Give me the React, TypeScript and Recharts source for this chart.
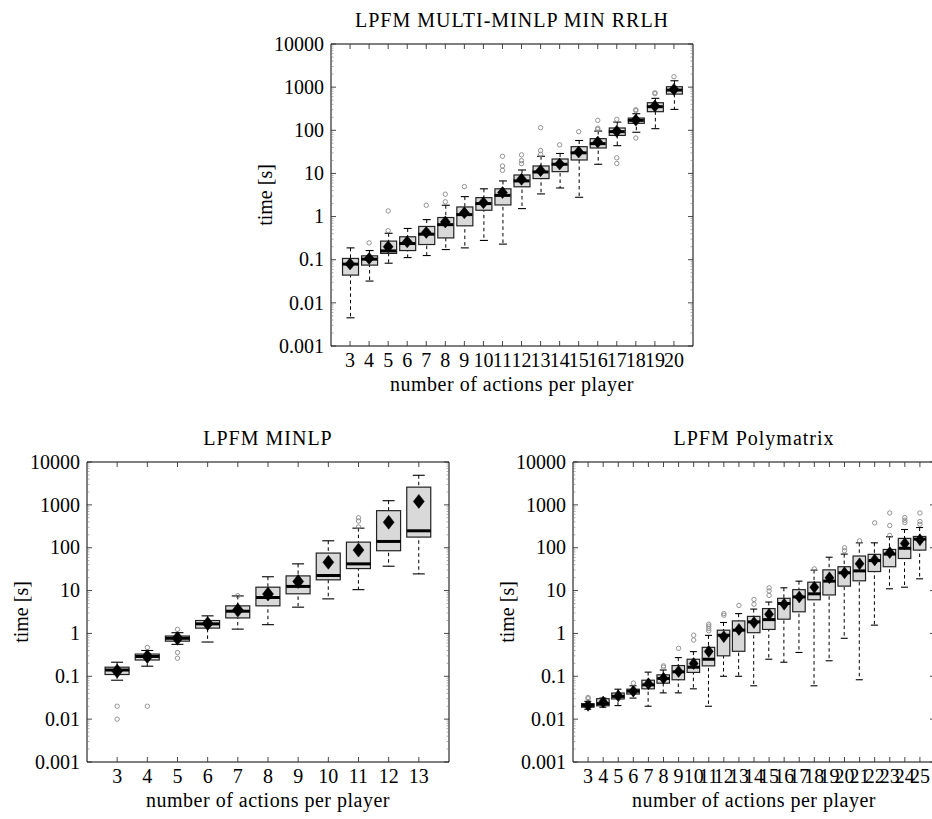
import React from 'react';
import { ComposedChart, Bar, Scatter, XAxis, YAxis, ReferenceArea } from 'recharts';

const FONT = "'Liberation Serif', 'Times New Roman', serif";

const Y_MAJOR = [0.001, 0.01, 0.1, 1, 10, 100, 1000, 10000];
const Y_MAJOR_LABELS = ['0.001', '0.01', '0.1', '1', '10', '100', '1000', '10000'];
const Y_MINOR_FACTORS = [2, 3, 4, 5, 6, 7, 8, 9];
const X_LABEL = 'number of actions per player';
const Y_LABEL = 'time [s]';

// ---- Panel A: LPFM MULTI-MINLP MIN RRLH ----
const titleA = 'LPFM MULTI-MINLP MIN RRLH';
const catsA = [3, 4, 5, 6, 7, 8, 9, 10, 11, 12, 13, 14, 15, 16, 17, 18, 19, 20];
const loA = [0.0045, 0.032, 0.083, 0.112, 0.125, 0.172, 0.188, 0.28, 0.23, 1.53, 3.35, 4.6, 2.8, 16.3, 44, 90, 109, 305];
const q1A = [0.044, 0.075, 0.14, 0.163, 0.225, 0.32, 0.61, 1.4, 1.86, 4.9, 7.6, 11, 20.5, 38.9, 76, 145, 270, 690];
const medA = [0.079, 0.103, 0.16, 0.237, 0.39, 0.65, 1.11, 2.0, 3.1, 6.7, 10.8, 16.3, 30, 49, 93, 170, 352, 855];
const q3A = [0.107, 0.123, 0.27, 0.34, 0.59, 0.95, 1.67, 2.75, 4.4, 9.2, 14.9, 21.6, 41.7, 64, 113, 192, 435, 1021];
const hiA = [0.188, 0.163, 0.41, 0.53, 0.85, 1.83, 2.9, 4.4, 6.7, 12, 25, 29, 58, 96, 155, 242, 550, 1406];
const meanA = [0.08, 0.107, 0.2, 0.26, 0.43, 0.75, 1.22, 2.1, 3.6, 7.3, 11.6, 16.5, 31.4, 53.5, 95, 172, 365, 887];
const outA = [
  [4, 0.246], [5, 0.47], [5, 1.35], [7, 1.83], [8, 2.2], [8, 3.3], [9, 4.95],
  [11, 11.8], [11, 14.9], [11, 25], [12, 16.9], [12, 19.8], [12, 27], [13, 27.7], [13, 34], [13, 115],
  [14, 46], [15, 93], [16, 105], [16, 112], [16, 170], [17, 17], [17, 23], [17, 179],
  [18, 66], [18, 285], [18, 300], [19, 705], [19, 740], [20, 1740],
];

// ---- Panel B: LPFM MINLP ----
const titleB = 'LPFM MINLP';
const catsB = [3, 4, 5, 6, 7, 8, 9, 10, 11, 12, 13];
const loB = [0.081, 0.172, 0.556, 0.63, 1.26, 1.6, 4.1, 6.4, 10.5, 37, 24.5];
const q1B = [0.11, 0.24, 0.66, 1.33, 2.3, 4.4, 8.4, 17.8, 32.6, 85, 177];
const medB = [0.14, 0.29, 0.77, 1.67, 3.3, 6.9, 12.5, 22.5, 42, 140, 248];
const q3B = [0.163, 0.33, 0.87, 2.0, 4.4, 12, 22, 75, 135, 732, 2590];
const hiB = [0.213, 0.4, 1.04, 2.57, 7.5, 21, 42, 145, 286, 1250, 4900];
const meanB = [0.132, 0.29, 0.77, 1.7, 3.5, 8.3, 16.3, 45.7, 88, 393, 1205];
const outB = [
  [3, 0.02], [3, 0.01], [4, 0.47], [4, 0.02], [5, 1.24], [5, 0.36], [5, 0.264],
  [7, 7.6], [11, 305], [11, 420], [11, 500],
];

// ---- Panel C: LPFM Polymatrix ----
const titleC = 'LPFM Polymatrix';
const catsC = [3, 4, 5, 6, 7, 8, 9, 10, 11, 12, 13, 14, 15, 16, 17, 18, 19, 20, 21, 22, 23, 24, 25];
const loC = [0.017, 0.019, 0.0207, 0.031, 0.02, 0.041, 0.041, 0.051, 0.02, 0.1, 0.1, 0.06, 0.25, 0.213, 0.36, 0.06, 0.23, 0.77, 0.083, 1.56, 11, 12, 18.8];
const q1C = [0.019, 0.0205, 0.0296, 0.0386, 0.051, 0.069, 0.083, 0.123, 0.175, 0.3, 0.383, 1.04, 1.24, 2.15, 3.2, 6.1, 7.9, 12.7, 16.9, 27.8, 36, 56, 88];
const medC = [0.021, 0.023, 0.034, 0.045, 0.063, 0.089, 0.127, 0.163, 0.25, 0.91, 1.19, 1.86, 2.1, 5.0, 7.1, 8.4, 16.6, 26, 28.8, 50, 71, 97, 159];
const q3C = [0.023, 0.03, 0.0407, 0.05, 0.081, 0.108, 0.178, 0.25, 0.474, 1.19, 1.96, 2.5, 3.8, 6.6, 10.5, 15.7, 30.4, 36, 64, 70, 91, 165, 183];
const hiC = [0.026, 0.031, 0.05, 0.06, 0.125, 0.14, 0.273, 0.376, 0.9, 1.8, 2.9, 3.7, 5.4, 11.6, 16.6, 30, 60, 71, 130, 130, 180, 266, 296];
const meanC = [0.021, 0.025, 0.035, 0.045, 0.067, 0.09, 0.13, 0.198, 0.38, 0.84, 1.24, 1.8, 2.8, 4.8, 7.1, 12, 19.8, 26, 42, 52, 77, 126, 153];
const outC = [
  [3, 0.03], [3, 0.032], [6, 0.0695], [8, 0.163], [8, 0.175], [9, 0.45], [10, 0.7], [10, 0.91],
  [11, 1.15], [11, 1.3], [11, 1.48], [11, 1.64], [12, 2.66], [12, 2.9], [13, 4.5], [14, 4.8], [14, 6.2],
  [15, 7.7], [15, 9.8], [15, 11.6], [18, 32], [20, 85], [20, 100], [21, 145], [22, 380],
  [23, 193], [23, 329], [23, 646], [24, 386], [24, 438], [24, 505], [25, 353], [25, 408], [25, 646],
];

const Y_ALL_TICKS: number[] = [];
Y_MAJOR.forEach((m, i) => {
  Y_ALL_TICKS.push(m);
  if (i < Y_MAJOR.length - 1) Y_MINOR_FACTORS.forEach((f) => Y_ALL_TICKS.push(parseFloat((m * f).toPrecision(3))));
});

function buildRows(cats: number[], lo: number[], q1: number[], med: number[], q3: number[], hi: number[], mean: number[]) {
  return cats.map((c, i) => ({ x: c, wh: [lo[i], hi[i]], box: [q1[i], q3[i]], med: med[i], mean: mean[i] }));
}
function buildOutliers(pairs: number[][]) {
  return pairs.map(([x, y]) => ({ x, y }));
}

type PanelProps = {
  title: string;
  frame: [number, number, number, number];
  xDomain: [number, number];
  cats: number[];
  rows: any[];
  outliers: any[];
  boxW: number;
  capW: number;
  dw: number;
  dh: number;
};

function Panel(p: PanelProps) {
  const [L, T, R, B] = p.frame;
  const pw = R - L;
  const ph = B - T;
  const padL = 90, padT = 40, padR = 16, padB = 60;
  const yW = 60, xH = 30;

  const yTick = (t: any) => {
    const { x, y, payload } = t;
    const i = Y_MAJOR.indexOf(payload.value);
    const major = i >= 0;
    const len = major ? 5 : 2.5;
    const st = major ? '#333' : '#777';
    const sw = major ? 0.9 : 0.6;
    return (
      <g>
        <line x1={x} x2={x + len} y1={y} y2={y} stroke={st} strokeWidth={sw} />
        <line x1={x + pw} x2={x + pw - len} y1={y} y2={y} stroke={st} strokeWidth={sw} />
        {major && (
          <text x={x - 7} y={y + 6.7} textAnchor="end" fontFamily={FONT} fontSize={20} fill="#000">
            {Y_MAJOR_LABELS[i]}
          </text>
        )}
      </g>
    );
  };

  const xTick = (t: any) => {
    const { x, y, payload } = t;
    return (
      <g>
        <line x1={x} x2={x} y1={y} y2={y - 5} stroke="#333" strokeWidth={0.9} />
        <line x1={x} x2={x} y1={y - ph} y2={y - ph + 5} stroke="#333" strokeWidth={0.9} />
        <text x={x} y={y + 21} textAnchor="middle" fontFamily={FONT} fontSize={20} fill="#000">
          {payload.value}
        </text>
      </g>
    );
  };

  const xLabel = (lp: any) => {
    const vb = lp.viewBox || {};
    const cx = vb.x + vb.width / 2;
    return (
      <g>
        <text x={cx} y={vb.y + 45} textAnchor="middle" fontFamily={FONT} fontSize={20} letterSpacing={0.5} fill="#000">
          {X_LABEL}
        </text>
        <text x={cx} y={vb.y - ph - 17} textAnchor="middle" fontFamily={FONT} fontSize={20} letterSpacing={1} fill="#000">
          {p.title}
        </text>
      </g>
    );
  };

  const yLabel = (lp: any) => {
    const vb = lp.viewBox || {};
    const bx = vb.x + vb.width - 59;
    const cy = vb.y + vb.height / 2;
    return (
      <text x={bx} y={cy} transform={`rotate(-90, ${bx}, ${cy})`} textAnchor="middle" fontFamily={FONT} fontSize={20} fill="#000">
        {Y_LABEL}
      </text>
    );
  };

  const whiskerShape = (s: any) => {
    const { x, y, width, height } = s;
    const cx = x + width / 2;
    const top = Math.min(y, y + height);
    const bot = Math.max(y, y + height);
    return (
      <g>
        <line x1={cx} x2={cx} y1={top} y2={bot} stroke="#000" strokeWidth={1} strokeDasharray="3.5 3" />
        <line x1={cx - p.capW / 2} x2={cx + p.capW / 2} y1={top} y2={top} stroke="#000" strokeWidth={1.1} />
        <line x1={cx - p.capW / 2} x2={cx + p.capW / 2} y1={bot} y2={bot} stroke="#000" strokeWidth={1.1} />
      </g>
    );
  };

  const boxShape = (s: any) => {
    const { x, y, width, height } = s;
    const top = Math.min(y, y + height);
    const h = Math.abs(height);
    return <rect x={x} y={top} width={width} height={h} fill="#d9d9d9" stroke="#222" strokeWidth={1.2} />;
  };

  const medianShape = (s: any) => {
    const { cx, cy } = s;
    return <line x1={cx - p.boxW / 2} x2={cx + p.boxW / 2} y1={cy} y2={cy} stroke="#000" strokeWidth={3} />;
  };

  const meanShape = (s: any) => {
    const { cx, cy } = s;
    const pts = `${cx},${cy - p.dh} ${cx + p.dw},${cy} ${cx},${cy + p.dh} ${cx - p.dw},${cy}`;
    return <polygon points={pts} fill="#000" stroke="#000" strokeWidth={0.5} />;
  };

  const outlierShape = (s: any) => {
    const { cx, cy } = s;
    return <circle cx={cx} cy={cy} r={2.2} fill="none" stroke="#888" strokeWidth={0.9} />;
  };

  return (
    <div style={{ position: 'absolute', left: L - padL, top: T - padT }}>
      <ComposedChart
        width={pw + padL + padR}
        height={ph + padT + padB}
        data={p.rows}
        margin={{ top: padT, left: padL - yW, right: padR, bottom: padB - xH }}
        barSize={p.boxW}
        barGap={-p.boxW}
      >
        <XAxis
          dataKey="x"
          type="number"
          domain={p.xDomain}
          ticks={p.cats}
          interval={0}
          allowDataOverflow
          height={xH}
          tickSize={0}
          tickMargin={0}
          tickLine={false}
          axisLine={false}
          tick={xTick}
          label={{ content: xLabel }}
        />
        <YAxis
          type="number"
          scale="log"
          domain={[0.001, 10000]}
          ticks={Y_ALL_TICKS}
          interval={0}
          allowDataOverflow
          width={yW}
          tickSize={0}
          tickMargin={0}
          tickLine={false}
          axisLine={false}
          tick={yTick}
          label={{ content: yLabel }}
        />
        <ReferenceArea x1={p.xDomain[0]} x2={p.xDomain[1]} y1={0.001} y2={10000} fill="none" fillOpacity={0} stroke="#000" strokeWidth={1} ifOverflow="visible" />
        <Bar dataKey="wh" shape={whiskerShape} isAnimationActive={false} />
        <Bar dataKey="box" shape={boxShape} isAnimationActive={false} />
        <Scatter dataKey="med" shape={medianShape} isAnimationActive={false} />
        <Scatter dataKey="mean" shape={meanShape} isAnimationActive={false} />
        <Scatter data={p.outliers} dataKey="y" shape={outlierShape} isAnimationActive={false} />
      </ComposedChart>
    </div>
  );
}

export default function App() {
  return (
    <div style={{ position: 'fixed', left: 0, top: 0, width: 932, height: 819, overflow: 'hidden', background: '#fff' }}>
      <Panel
        title={titleA}
        frame={[331, 44, 693, 346]}
        xDomain={[2, 21]}
        cats={catsA}
        rows={buildRows(catsA, loA, q1A, medA, q3A, hiA, meanA)}
        outliers={buildOutliers(outA)}
        boxW={16}
        capW={8}
        dw={5}
        dh={6}
      />
      <Panel
        title={titleB}
        frame={[87, 462, 449, 762]}
        xDomain={[2, 14]}
        cats={catsB}
        rows={buildRows(catsB, loB, q1B, medB, q3B, hiB, meanB)}
        outliers={buildOutliers(outB)}
        boxW={24}
        capW={12}
        dw={5.5}
        dh={7}
      />
      <Panel
        title={titleC}
        frame={[573, 462, 935, 762]}
        xDomain={[2, 26]}
        cats={catsC}
        rows={buildRows(catsC, loC, q1C, medC, q3C, hiC, meanC)}
        outliers={buildOutliers(outC)}
        boxW={12.5}
        capW={7}
        dw={4.5}
        dh={6}
      />
    </div>
  );
}
